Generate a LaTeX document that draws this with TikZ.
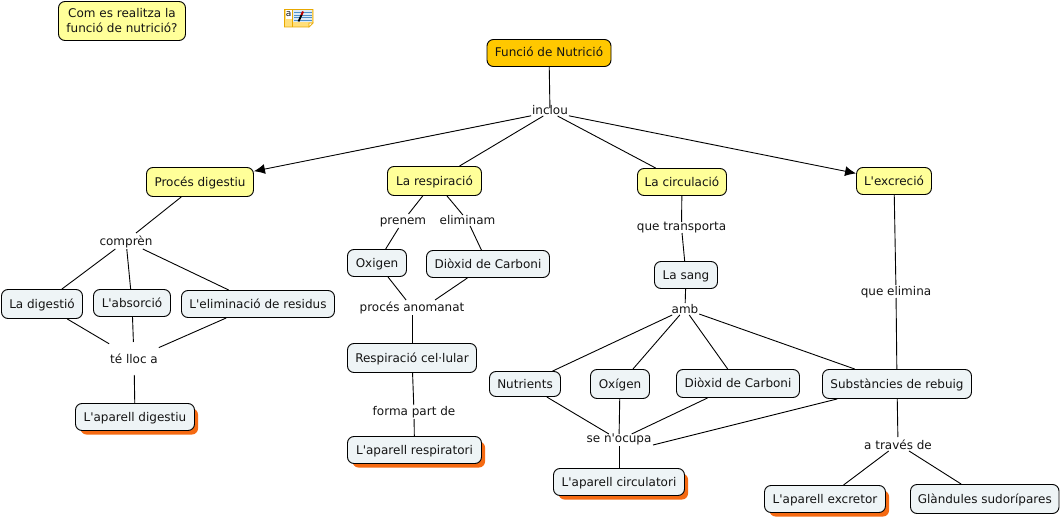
\documentclass[tikz,border=0pt]{standalone}
\usepackage{fontspec}
\setmainfont{DejaVu Sans}[Ligatures=TeXOff]
\usetikzlibrary{arrows.meta}
\definecolor{yelc}{HTML}{FFFF99}
\definecolor{goldc}{HTML}{FFC800}
\definecolor{palec}{HTML}{EEF4F6}
\definecolor{orangec}{HTML}{F56A12}
\definecolor{icony}{HTML}{FFDF7A}
\definecolor{icono}{HTML}{E8A800}
\definecolor{iconb}{HTML}{DCEBF7}
\definecolor{iconl}{HTML}{4F8FC8}
\begin{document}
\begin{tikzpicture}[x=1pt,y=-1pt,
  every node/.style={font=\fontsize{12}{15}\selectfont,text=black!92},
  bx/.style={draw=black,line width=0.9pt,rounded corners=6.5pt,inner sep=0pt,align=center},
  one/.style={bx,text height=9pt,text depth=1pt},
  yel/.style={one,fill=yelc},
  gold/.style={one,fill=goldc},
  pale/.style={one,fill=palec},
  lnk/.style={inner xsep=1pt,inner ysep=0pt,outer sep=0pt},
  conn/.style={draw=black,line width=0.9pt},
  arr/.style={conn,-{Latex[length=11pt,width=10pt]}},
  shad/.style={fill=orangec,rounded corners=6pt}
]
\useasboundingbox (0,0) rectangle (1061,519);
\newcommand{\bxn}[7]{\node[#1,minimum width=#5pt-#4pt,minimum height=#7pt-#6pt] (#2) at ({(#4+#5)/2},{(#6+#7)/2}) {#3};}
\newcommand{\shn}[4]{\fill[shad] (#1+5,#3+5) rectangle (#2+3.5,#4+4);}
\newcommand{\lk}[6]{\pgfmathsetmacro\dd{(#4+#5)/2-#6}\node[lnk,minimum height=#5pt-#4pt] (#1) at (#3,{(#4+#5)/2}) {\raisebox{\dd pt}[0pt][0pt]{#2}};}
% shadows
\shn{75.5}{194.5}{403.5}{430.5}
\shn{347.5}{481.5}{436.5}{463.5}
\shn{553.5}{684.5}{468.5}{495.5}
\shn{764.5}{885.5}{485.5}{512.5}
% concept boxes
\bxn{bx,fill=yelc}{q}{Com es realitza la\\funció de nutrició?}{58.5}{185.5}{1.5}{40.5}
\bxn{gold}{fn}{Funció de Nutrició}{487}{611}{39.5}{66.5}
\bxn{yel}{pd}{Procés digestiu}{146.5}{253.5}{167.5}{196.5}
\bxn{yel}{resp}{La respiració}{387.5}{481.5}{166.5}{195.5}
\bxn{yel}{circ}{La circulació}{637.5}{726.5}{168.5}{195.5}
\bxn{yel}{exc}{L'excreció}{856.5}{931.5}{167.5}{194.5}
\bxn{pale}{dig}{La digestió}{1.5}{82.5}{289.5}{318.5}
\bxn{pale}{abs}{L'absorció}{93.5}{170.5}{289.5}{316.5}
\bxn{pale}{elim}{L'eliminació de residus}{181.5}{334.5}{290.5}{317.5}
\bxn{pale}{apd}{L'aparell digestiu}{75.5}{194.5}{403.5}{430.5}
\bxn{pale}{oxi}{Oxigen}{347.5}{406.5}{249.5}{276.5}
\bxn{pale}{co}{Diòxid de Carboni}{426.5}{549.5}{250.5}{277.5}
\bxn{pale}{rc}{Respiració cel·lular}{347.5}{476.5}{343.5}{372.5}
\bxn{pale}{apr}{L'aparell respiratori}{347.5}{481.5}{436.5}{463.5}
\bxn{pale}{sang}{La sang}{654.5}{717.5}{261.5}{288.5}
\bxn{pale}{nut}{Nutrients}{489.5}{560.5}{371.5}{396.5}
\bxn{pale}{oxg}{Oxígen}{590.5}{649.5}{369.5}{398.5}
\bxn{pale}{cob}{Diòxid de Carboni}{676.5}{799.5}{369.5}{397.5}
\bxn{pale}{sub}{Substàncies de rebuig}{822.5}{971.5}{369.5}{398.5}
\bxn{pale}{apc}{L'aparell circulatori}{553.5}{684.5}{468.5}{495.5}
\bxn{pale}{ape}{L'aparell excretor}{764.5}{885.5}{485.5}{512.5}
\bxn{pale}{gla}{Glàndules sudorípares}{910.5}{1059}{484.5}{513.5}
% linking phrases: name, text, x, top, bottom, baseline
\lk{inc}{inclou}{550}{108}{116}{114}
\lk{comp}{comprèn}{126}{233}{249}{245}
\lk{tll}{té lloc a}{134}{342}{375}{363}
\lk{pre}{prenem}{403}{214}{228}{224}
\lk{eli}{eliminam}{467.5}{215}{226}{224}
\lk{pan}{procés anomanat}{412}{300}{315}{311}
\lk{fpd}{forma part de}{414}{405}{419}{415}
\lk{qt}{que transporta}{681.5}{222}{233}{230}
\lk{amb}{amb}{685}{303}{315}{313}
\lk{sno}{se n'ocupa}{619}{434}{446}{442}
\lk{qe}{que elimina}{896}{285}{298}{295}
\lk{atd}{a través de}{898}{437}{451}{449}
\coordinate (panR) at (435,300);
\coordinate (snoR) at (653,445);
% connectors
\draw[conn] (fn) -- (inc);
\draw[arr] (inc) -- (pd);
\draw[conn] (inc) -- (resp);
\draw[conn] (inc) -- (circ);
\draw[arr] (inc) -- (exc);
\draw[conn] (pd) -- (comp);
\draw[conn] (comp) -- (dig);
\draw[conn] (comp) -- (abs);
\draw[conn] (comp) -- (elim);
\draw[conn] (dig) -- (tll);
\draw[conn] (abs) -- (tll);
\draw[conn] (elim) -- (tll);
\draw[conn] (tll) -- (apd);
\draw[conn] (resp) -- (pre);
\draw[conn] (resp) -- (eli);
\draw[conn] (pre) -- (oxi);
\draw[conn] (eli) -- (co);
\draw[conn] (oxi) -- (pan);
\draw[conn] (co) -- (panR);
\draw[conn] (pan) -- (rc);
\draw[conn] (rc) -- (fpd);
\draw[conn] (fpd) -- (apr);
\draw[conn] (circ) -- (qt);
\draw[conn] (qt) -- (sang);
\draw[conn] (sang) -- (amb);
\draw[conn] (amb) -- (nut);
\draw[conn] (amb) -- (oxg);
\draw[conn] (amb) -- (cob);
\draw[conn] (amb) -- (sub);
\draw[conn] (nut) -- (sno);
\draw[conn] (oxg) -- (sno);
\draw[conn] (cob) -- (sno);
\draw[conn] (sub) -- (snoR);
\draw[conn] (sno) -- (apc);
\draw[conn] (exc) -- (qe);
\draw[conn] (qe) -- (sub);
\draw[conn] (sub) -- (atd);
\draw[conn] (atd) -- (ape);
\draw[conn] (atd) -- (gla);
% annotation icon
\fill[icony,draw=icono,line width=0.8pt] (284.5,9.5) -- (313,9.5) -- (313,23) -- (309,27) -- (284.5,27) -- cycle;
\fill[white] (285.5,10.2) rectangle (292,19);
\fill[iconb] (293,10.5) rectangle (312,22);
\draw[icono,line width=0.6pt] (292.5,9.5) -- (292.5,27);
\draw[icono,line width=0.6pt,fill=white] (313,23) -- (309,23) -- (309,27) -- cycle;
\foreach \yy in {12.5,15,17.5,20}{\draw[iconl,line width=0.7pt] (294,\yy) -- (311.5,\yy);}
\draw[black,line width=1.8pt] (298.5,21.5) -- (301.5,15);
\draw[red!75!black,line width=2pt] (301.5,15) -- (303,11.5);
\node[font=\fontsize{9}{9}\selectfont,inner sep=0pt] (ica) at (288.7,14.3) {a};
\end{tikzpicture}
\end{document}
